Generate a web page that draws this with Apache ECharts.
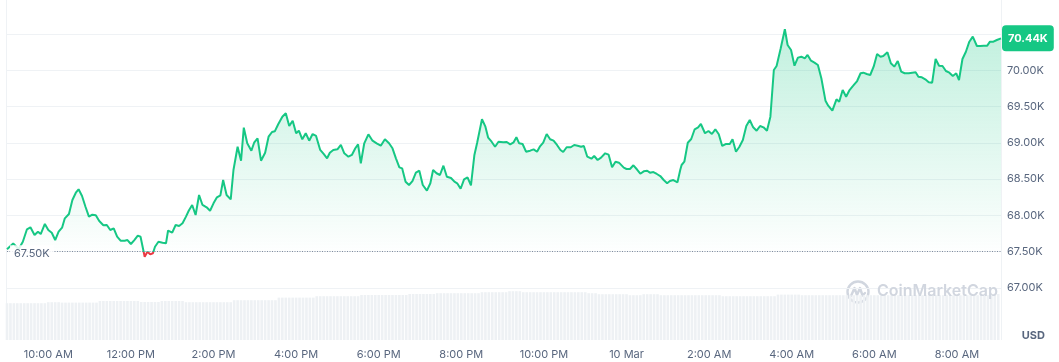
<!DOCTYPE html>
<html><head><meta charset="utf-8">
<script src="https://cdn.jsdelivr.net/npm/echarts@6/dist/echarts.min.js"></script>
<style>html,body{margin:0;padding:0;background:#fff}#c{width:1059px;height:362px}</style>
</head><body><div id="c"></div>
<script>
// minutes after 9:00 AM, 9 Mar
const minutesAfter9am = [
0,9,17,23,29,34,40,45,49,55,
60,65,70,75,80,84,90,95,100,104,
109,114,119,124,129,134,140,145,150,155,
160,165,171,175,180,185,190,194,197,200,
204,208,212,215,220,226,231,234,240,245,
250,255,260,264,269,274,279,284,290,295,
300,305,310,314,319,325,329,335,340,344,
349,355,359,364,369,375,380,385,389,394,
400,405,410,415,420,424,429,434,439,444,
449,455,460,465,469,474,480,485,490,496,
501,506,510,514,519,525,531,537,543,549,
555,560,565,570,574,579,584,589,594,599,
604,610,615,619,624,629,634,639,645,650,
654,659,664,669,674,679,683,690,695,699,
704,709,714,721,726,731,736,740,744,749,
754,760,765,770,774,779,784,789,794,799,
804,808,813,819,824,829,834,838,843,849,
853,858,863,869,874,879,884,889,896,900,
905,910,915,920,925,930,934,939,944,949,
954,959,963,968,974,978,980,984,989,994,
999,1004,1008,1014,1019,1024,1029,1034,1039,1044,
1050,1054,1059,1064,1069,1074,1079,1084,1089,1094,
1099,1104,1109,1114,1118,1124,1130,1134,1139,1144,
1149,1154,1159,1163,1168,1173,1178,1183,1189,1193,
1199,1205,1209,1214,1219,1224,1229,1235,1240,1244,
1249,1254,1259,1264,1269,1273,1279,1284,1289,1294,
1299,1304,1310,1315,1320,1324,1329,1334,1339,1344,
1349,1354,1359,1364,1369,1374,1379,1383,1388,1393,
1398,1403,1409,1414,1419,1424,1428,1433,1438,1444
];
const prices = [
67533,67613,67537,67638,67809,67836,67730,67776,67744,67882,
67799,67762,67661,67776,67831,67960,68020,68213,68313,68360,
68268,68120,67983,68010,68002,67923,67864,67868,67799,67823,
67707,67652,67652,67661,67606,67661,67721,67707,67569,67431,
67500,67464,67478,67569,67638,67624,67616,67792,67762,67868,
67854,67892,67983,68065,68144,68006,68282,68144,68112,68065,
68167,68250,68277,68488,68282,68222,68626,68947,68754,69209,
68994,68892,69002,69063,68754,68864,69085,69150,69159,69256,
69361,69407,69232,69305,69132,69168,69049,69132,69030,69122,
69095,68902,68847,68787,68864,68902,68911,68971,68856,68809,
68833,68925,68980,68718,68994,69118,69030,68994,68961,69049,
68994,68925,68787,68663,68649,68465,68419,68474,68589,68616,
68419,68341,68443,68626,68581,68557,68685,68534,68516,68465,
68443,68368,68498,68525,68415,68833,69002,69325,69223,69071,
69016,68947,69016,69008,69012,68980,69008,69077,68994,68984,
68878,68892,68911,68878,68947,69002,69122,69049,69030,68971,
68902,68874,68939,68939,68971,68961,68947,68957,68809,68782,
68819,68764,68796,68856,68837,68663,68740,68727,68658,68640,
68640,68691,68636,68575,68608,68616,68589,68598,68571,68543,
68488,68443,68474,68488,68457,68626,68695,68740,69002,69053,
69187,69214,69260,69132,69163,69122,69187,69118,68957,68984,
68984,69049,68878,68947,69039,69232,69315,69214,69168,69232,
69214,69168,69361,70004,70059,70303,70565,70349,70280,70063,
70174,70187,70165,70211,70132,70105,70073,69890,69581,69512,
69443,69600,69567,69728,69636,69728,69784,69852,69959,69967,
69949,69935,70050,70225,70187,70197,70248,70096,70050,70128,
69981,69959,69959,69967,69972,69912,69903,69876,69835,69829,
70156,70063,70059,69990,69967,69921,69959,69866,70156,70256,
70394,70463,70335,70335,70339,70339,70394,70394,70417,70440
];
// 24h volume (USD billions), one bar per 5 minutes from 9:00 AM
const volumeStepMinutes = 5;
const volumes = [
18.4,18.4,18.4,18.4,18.4,18.4,18.4,18.4,18.4,18.4,18.4,18.4,
18.9,18.9,18.9,18.9,
18.7,18.7,18.7,18.7,18.7,18.7,18.7,18.7,18.7,18.7,18.7,
19.5,19.5,19.5,19.5,19.5,19.5,19.5,19.5,19.5,19.5,19.5,19.5,
19.0,19.0,19.0,19.0,19.0,19.0,
19.5,19.5,19.5,19.5,19.5,19.5,19.5,
18.9,18.9,18.9,18.9,18.9,18.9,18.9,18.9,18.9,18.9,18.9,18.9,18.9,18.9,
19.9,19.9,19.9,19.9,19.9,19.9,19.9,19.9,19.9,19.9,19.9,19.9,19.9,
21.2,21.2,21.2,21.2,21.2,21.2,21.2,21.2,21.2,21.2,21.2,
21.9,21.9,21.9,21.9,21.9,21.9,21.9,21.9,21.9,21.9,21.9,21.9,21.9,
22.5,22.5,22.5,22.5,22.5,22.5,22.5,22.5,22.5,22.5,22.5,22.5,22.5,22.5,
23.0,23.0,23.0,23.0,23.0,23.0,23.0,23.0,
23.4,23.4,23.4,23.4,23.4,23.4,23.4,23.4,23.4,23.4,23.4,23.4,23.4,
23.9,23.9,23.9,23.9,23.9,23.9,23.9,23.9,
24.4,24.4,24.4,24.4,
23.9,23.9,23.9,23.9,23.9,23.9,23.9,23.9,23.9,23.9,23.9,23.9,23.9,23.9,23.9,23.9,23.9,23.9,23.9,
23.4,23.4,23.4,
22.9,22.9,22.9,22.9,22.9,22.9,22.9,22.9,22.9,
22.4,22.4,22.4,22.4,
22.9,22.9,22.9,22.9,22.9,
22.4,22.4,22.4,22.4,22.4,22.4,22.4,22.4,22.4,22.4,22.4,22.4,22.4,22.4,22.4,22.4,22.4,22.4,
21.9,21.9,21.9,21.9,21.9,21.9,21.9,21.9,21.9,21.9,21.9,21.9,21.9,21.9,21.9,21.9,
22.7,22.7,22.7,22.7,22.7,22.7,22.7,
22.4,22.4,22.4,22.4,22.4,22.4,22.4,22.4,22.4,22.4,22.4,22.4,22.4,22.4,22.4,22.4,22.4,22.4,22.4,22.4,
22.4,22.4,22.4,22.4,22.4,22.4,22.4,22.4,22.4,22.4,22.4,22.4,22.4,22.4,22.4,22.4,22.4,22.4,22.4,22.4,
22.4,22.4,22.4,22.4,22.4,22.4,22.4,22.4,22.4,22.4,22.4,22.4,22.4,22.4,22.4,22.4,22.4,
23.0
];
const openPrice = 67500;
const xTickMinutes = [60,180,300,420,540,660,780,900,1020,1140,1260,1380];
const xTickLabels = ['10:00 AM','12:00 PM','2:00 PM','4:00 PM','6:00 PM','8:00 PM','10:00 PM','10 Mar','2:00 AM','4:00 AM','6:00 AM','8:00 AM'];

const fontFamily = 'Inter, "Noto Sans", sans-serif';
const labelColor = '#58667e';
const green = '#16c784', red = '#ea3943';
const fmtK = v => (v / 1000).toFixed(2) + 'K';
const lastPrice = prices[prices.length - 1];
const xMax = minutesAfter9am[minutesAfter9am.length - 1];

const priceData = minutesAfter9am.map((m, i) => [m, prices[i]]);
const volData = volumes.map((v, i) => [i * volumeStepMinutes, v]);

const chart = echarts.init(document.getElementById('c'), null, {renderer: 'canvas'});
chart.setOption({
  animation: false,
  grid: [
    {left: 7, right: 58, top: 34, bottom: 74},
    {left: 7, right: 58, top: 220, bottom: 22}
  ],
  xAxis: [
    {type: 'value', gridIndex: 0, min: 0, max: xMax, show: false},
    {type: 'value', gridIndex: 1, min: 0, max: xMax,
      axisLine: {show: false}, splitLine: {show: false},
      axisTick: {show: false, customValues: xTickMinutes},
      axisLabel: {customValues: xTickMinutes, formatter: v => xTickLabels[xTickMinutes.indexOf(v)] || '',
        color: labelColor, fontSize: 11, fontFamily, margin: 9}}
  ],
  yAxis: [
    {type: 'value', gridIndex: 0, position: 'right', min: 67000, max: 70500, interval: 500,
      axisLine: {show: false}, axisTick: {show: false},
      splitLine: {lineStyle: {color: '#eff2f5', width: 1}},
      axisLabel: {formatter: v => v >= 70500 ? '' : fmtK(v), color: labelColor, fontSize: 11, fontFamily, margin: 6}},
    {type: 'value', gridIndex: 1, min: 0, max: 60, show: false}
  ],
  visualMap: {type: 'piecewise', show: false, seriesIndex: 1, dimension: 1,
    pieces: [{gte: 60000, lt: openPrice, color: red}, {gte: openPrice, lte: 80000, color: green}]},
  series: [
    {type: 'bar', xAxisIndex: 1, yAxisIndex: 1, data: volData, barWidth: 2.6, silent: true,
      itemStyle: {color: '#eef1f4'}, z: 1},
    {type: 'line', xAxisIndex: 0, yAxisIndex: 0, data: priceData, symbol: 'none', showSymbol: false,
      clip: false, z: 3, lineStyle: {width: 2},
      areaStyle: {origin: openPrice, color: new echarts.graphic.LinearGradient(0, 0, 0, 1, [
        {offset: 0, color: 'rgba(22,199,132,0.38)'},
        {offset: 1, color: 'rgba(22,199,132,0.0)'}])},
      markLine: {symbol: 'none', silent: true, animation: false, data: [
        {yAxis: openPrice, lineStyle: {type: [1, 1.5], color: '#808a9d', width: 1}, label: {show: false}},
        {yAxis: lastPrice, lineStyle: {color: 'rgba(0,0,0,0)', width: 1, type: 'solid'},
          label: {show: true, position: 'end', distance: 1,
          formatter: fmtK(lastPrice), color: '#fff', fontWeight: 'bold', fontSize: 11, fontFamily,
          backgroundColor: green, borderRadius: 4, padding: [7, 6, 6, 6], lineHeight: 13}}
      ]},
      markPoint: {symbol: 'circle', symbolSize: 0, silent: true, data: [
        {coord: [0, openPrice], label: {show: true, position: 'right', distance: 3, offset: [0, 2],
          formatter: fmtK(openPrice), color: labelColor, fontSize: 11, fontFamily,
          backgroundColor: 'rgba(255,255,255,0.85)', padding: [3, 4]}}
      ]}
    }
  ],
  graphic: [
    {type: 'line', shape: {x1: 6.5, y1: 0, x2: 6.5, y2: 340}, style: {stroke: '#eff2f5', lineWidth: 1}, silent: true},
    {type: 'line', shape: {x1: 1001.5, y1: 0, x2: 1001.5, y2: 340}, style: {stroke: '#eff2f5', lineWidth: 1}, silent: true},
    {type: 'text', right: 14, top: 330, style: {text: 'USD', fill: labelColor, font: 'bold 11px ' + fontFamily}},
    {type: 'group', left: 845, top: 279, z: 10, silent: true, children: [
      {type: 'circle', shape: {cx: 12, cy: 12, r: 10.5}, style: {fill: 'none', stroke: '#d1d6df', lineWidth: 2.4}},
      {type: 'polyline', shape: {points: [[5, 16], [8.5, 8], [11, 15], [14, 8], [16.5, 15.5], [19, 13]]},
        style: {fill: 'none', stroke: '#d1d6df', lineWidth: 2.4, lineJoin: 'round', lineCap: 'round'}}
    ]},
    {type: 'text', left: 877, top: 283, z: 10, silent: true,
      style: {text: 'CoinMarketCap', fill: '#d1d6df', font: '600 16px ' + fontFamily}}
  ]
});
</script>
</body></html>
